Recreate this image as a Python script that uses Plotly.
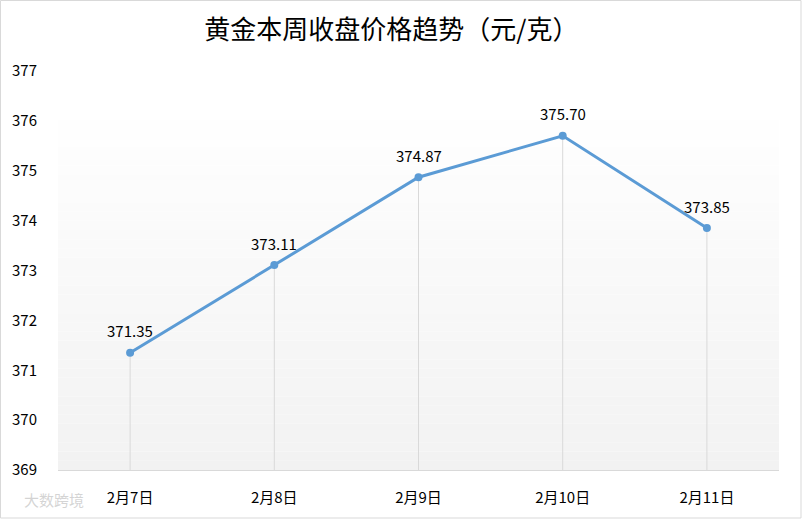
import plotly.graph_objects as go

categories = ["2月7日", "2月8日", "2月9日", "2月10日", "2月11日"]
prices = [371.35, 373.11, 374.87, 375.70, 373.85]
y_ticks = [369, 370, 371, 372, 373, 374, 375, 376, 377]
title_text = "黄金本周收盘价格趋势（元/克）"

y_min, y_max = 369, 377
xpos = list(range(len(categories)))
FONT = "Noto Sans CJK SC"

fig = go.Figure()

# gradient background bands (plot area, white at top -> light gray at bottom)
n = 40
g_top, g_bot = 376.4, y_min
shapes = []
for i in range(n):
    y0 = g_bot + (g_top - g_bot) * i / n
    y1 = g_bot + (g_top - g_bot) * (i + 1) / n
    t = i / (n - 1)
    c = int(round(242 + (255 - 242) * t))
    shapes.append(dict(type="rect", xref="x domain", yref="y", x0=0, x1=1, y0=y0, y1=y1,
                       fillcolor=f"rgb({c},{c},{c})", line=dict(width=0), layer="below"))
# outer border
shapes.append(dict(type="rect", xref="paper", yref="paper", x0=-57.5/721, x1=1+22/721,
                   y0=-48/399, y1=1+70.5/399, line=dict(color="#d9d9d9", width=1)))

fig.add_trace(go.Scatter(
    x=xpos, y=prices, mode="lines+markers",
    line=dict(color="#5b9bd5", width=3),
    marker=dict(color="#5b9bd5", size=8),
    error_y=dict(type="data", symmetric=False, array=[0]*len(prices),
                 arrayminus=[p - y_min for p in prices], color="#d9d9d9", thickness=1, width=0),
    cliponaxis=False, showlegend=False, hoverinfo="skip",
))

annotations = [dict(x=x, y=p, text=f"{p:.2f}", showarrow=False, yshift=22,
                    font=dict(family=FONT, size=15, color="#000000"))
               for x, p in zip(xpos, prices)]
annotations.append(dict(text="大数跨境", xref="paper", yref="paper", x=-0.05, y=-0.075,
                        xanchor="left", yanchor="middle", showarrow=False,
                        font=dict(family=FONT, size=15, color="rgba(205,205,205,0.85)")))

fig.update_layout(
    width=802, height=519,
    margin=dict(l=58, r=23, t=71, b=49),
    paper_bgcolor="white", plot_bgcolor="white",
    title=dict(text=title_text, x=0.488, xanchor="center", y=0.943, yanchor="middle",
               font=dict(family=FONT, size=26, color="#000000")),
    font=dict(family=FONT, size=15, color="#000000"),
    shapes=shapes,
    xaxis=dict(range=[-0.5, len(categories) - 0.5], tickvals=xpos, ticktext=categories,
               showgrid=False, zeroline=False, showline=True, linecolor="#d9d9d9", linewidth=1,
               ticks="", ticklabelstandoff=14, tickfont=dict(family=FONT, size=15)),
    yaxis=dict(range=[y_min, y_max], tickvals=y_ticks, showgrid=False, zeroline=False,
               showline=False, ticks="", ticklabelstandoff=20, tickfont=dict(family=FONT, size=15)),
    annotations=annotations,
)

fig.write_html("out.html", config={"displayModeBar": False},
               post_script="document.body.style.margin='0';document.body.style.overflow='hidden';")
